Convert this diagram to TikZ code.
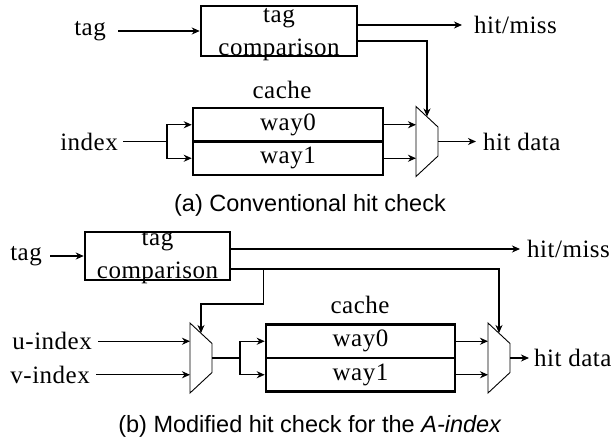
\documentclass[tikz,border=0pt]{standalone}
\usepackage{fontspec}
\setmainfont{Liberation Serif}[LetterSpace=2]
\newfontfamily\capfont{Liberation Sans}
\usepackage{tikz}
\usetikzlibrary{arrows.meta}
\usetikzlibrary{calc}

% mux: name, left x, centre y
\newcommand{\drawmux}[3]{
  \coordinate (#1-in1) at (#2, #3-\wo);
  \coordinate (#1-in2) at (#2, #3+\wo);
  \coordinate (#1-sel) at (#2+11, #3-25);
  \coordinate (#1-out) at (#2+22, #3);
  \draw[muxline] (#2,#3-35) -- (#2+22,#3-14.5) -- (#2+22,#3+14.5) -- (#2,#3+35) -- cycle;
}

\tikzset{
  txt/.style={inner sep=0pt, font=\fontsize{25}{33}\selectfont},
  cmpbox/.style={draw, line width=2.5pt, inner sep=0pt},
  waybox/.style={draw, line width=2.5pt, inner sep=0pt, minimum height=33.5pt, font=\fontsize{25}{33}\selectfont},
  wire/.style={line width=1.2pt},
  arr/.style={wire, -{Stealth[length=8pt,width=7pt,inset=2.5pt]}},
  muxline/.style={line width=0.9pt},
  captxt/.style={inner sep=0pt, font=\capfont\fontsize{23.5}{28}\selectfont}
}

\begin{document}
\begin{tikzpicture}[x=1pt, y=-1pt]
  \useasboundingbox (0,0) rectangle (613,445);

  \def\wo{16.75};

  %(a) conventional
  \node[cmpbox, minimum width=156pt, minimum height=50pt] (cmpA) at (279,31) {};
  \node[txt, anchor=base] (cmpAtxt) at (279,22) {\begin{tabular}[t]{@{}c@{}}tag\\comparison\end{tabular}};
  \node[txt, anchor=east] (tagA) at (106,31) {tag};
  \node[txt, anchor=west] (hmA) at (474,25) {hit/miss};
  \draw[arr, shorten <=12pt] (tagA.east) -- (cmpA.west);
  \draw[arr, shorten >=12pt] ($(cmpA.east)+(0,-6)$) -- (hmA.west);

  \node[txt] (cacheA) at (282,90) {cache};
  \foreach \nm/\txt/\dy in {way0A/way0/-1, way1A/way1/1}{
    \node[waybox, minimum width=190pt] (\nm) at (288,141.5+\dy*\wo) {\txt};
  }

  \node[txt, anchor=east] (idxA) at (118,141.5) {index};
  \coordinate (splitA) at (167,141.5);
  \draw[wire, shorten <=5pt] (idxA.east) -- (splitA);
  \draw[arr] (splitA) |- (way0A.west);
  \draw[arr] (splitA) |- (way1A.west);

  \drawmux{mA}{416}{141.5}
  \draw[arr] (way0A.east) -- (mA-in1);
  \draw[arr] (way1A.east) -- (mA-in2);
  \draw[arr] ($(cmpA.east)+(0,10)$) -| (mA-sel);

  \node[txt, anchor=west] (hdA) at (483,141.5) {hit data};
  \draw[arr, shorten >=7pt] (mA-out) -- (hdA.west);

  \node[captxt] (capA) at (310,205) {(a) Conventional hit check};

  %(b) modified
  \node[cmpbox, minimum width=145pt, minimum height=48pt] (cmpB) at (157.5,256) {};
  \node[txt, anchor=base] (cmpBtxt) at (157.5,245) {\begin{tabular}[t]{@{}c@{}}tag\\comparison\end{tabular}};
  \node[txt, anchor=east] (tagB) at (42,256) {tag};
  \node[txt, anchor=west] (hmB) at (527,249) {hit/miss};
  \draw[arr, shorten <=8pt] (tagB.east) -- (cmpB.west);
  \draw[arr, shorten >=7pt] ($(cmpB.east)+(0,-7)$) -- (hmB.west);

  \node[txt] (cacheB) at (360,305) {cache};
  \foreach \nm/\txt/\dy in {way0B/way0/-1, way1B/way1/1}{
    \node[waybox, minimum width=189pt] (\nm) at (360.5,358+\dy*\wo) {\txt};
  }

  \drawmux{mB}{190}{358}
  \drawmux{mC}{488}{358}

  \node[txt, anchor=east] (uB) at (92,341.25) {u-index};
  \node[txt, anchor=east] (vB) at (90,374.75) {v-index};
  \draw[arr, shorten <=6pt] (uB.east) -- (mB-in1);
  \draw[arr, shorten <=6pt] (vB.east) -- (mB-in2);

  \coordinate (brB) at ($(cmpB.east)+(32,13)$);
  \draw[arr] ($(cmpB.east)+(0,13)$) -| (mC-sel);
  \draw[arr] (brB) -- ++(0,35) -| (mB-sel);

  \coordinate (splitB) at (240,358);
  \draw[wire] (mB-out) -- (splitB);
  \draw[arr] (splitB) |- (way0B.west);
  \draw[arr] (splitB) |- (way1B.west);

  \draw[arr] (way0B.east) -- (mC-in1);
  \draw[arr] (way1B.east) -- (mC-in2);

  \node[txt, anchor=west] (hdB) at (534,358) {hit data};
  \draw[arr, shorten >=5pt] (mC-out) -- (hdB.west);

  \node[captxt] (capB) at (310,426) {(b) Modified hit check for the \textit{A-index}};

\end{tikzpicture}
\end{document}
